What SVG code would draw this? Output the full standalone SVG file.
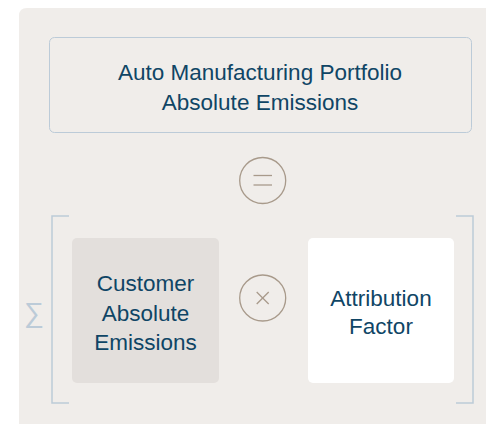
<svg xmlns="http://www.w3.org/2000/svg" width="486" height="424" viewBox="0 0 486 424">
<style>
.t{font-family:"Liberation Sans",Arial,sans-serif;font-size:22.5px;fill:#0f4565;text-anchor:middle}
.op{fill:none;stroke:#a89a8b;stroke-width:1.3}
.br{fill:none;stroke:#bccbd8;stroke-width:1.5}
</style>
<rect width="486" height="424" fill="#ffffff"/>
<path d="M19,16 Q19,8 27,8 L486,8 L486,424 L19,424 Z" fill="#f0edea"/>
<g id="total">
<rect x="49.5" y="37.5" width="422" height="95" rx="5" fill="none" stroke="#bccbd8" stroke-width="1"/>
<text class="t" x="260" y="80">Auto Manufacturing Portfolio</text>
<text class="t" x="260" y="110">Absolute Emissions</text>
</g>
<g id="equals">
<circle class="op" cx="262.7" cy="180.5" r="23"/>
<line class="op" x1="253.5" y1="175.5" x2="272" y2="175.5"/>
<line class="op" x1="253.5" y1="185" x2="272" y2="185"/>
</g>
<g id="sum">
<path class="br" d="M69,216 L52,216 L52,403 L69,403"/>
<path class="br" d="M456,216 L473,216 L473,403 L456,403"/>
<text x="34" y="322" font-family="DejaVu Sans,sans-serif" font-size="28" fill="#bccbd8" text-anchor="middle" font-weight="200">∑</text>
</g>
<g id="customer">
<rect x="72" y="238" width="147" height="145" rx="5" fill="#e3dfdc"/>
<text class="t" x="145.5" y="291">Customer</text>
<text class="t" x="145.5" y="320.5">Absolute</text>
<text class="t" x="145.5" y="350">Emissions</text>
</g>
<g id="times">
<circle class="op" cx="262.7" cy="298" r="23"/>
<line class="op" x1="256.7" y1="292" x2="268.7" y2="304"/>
<line class="op" x1="268.7" y1="292" x2="256.7" y2="304"/>
</g>
<g id="attribution">
<rect x="308" y="238" width="146" height="145" rx="5" fill="#ffffff"/>
<text class="t" x="381" y="306">Attribution</text>
<text class="t" x="381" y="334">Factor</text>
</g>
<g id="connectors"></g>
</svg>
